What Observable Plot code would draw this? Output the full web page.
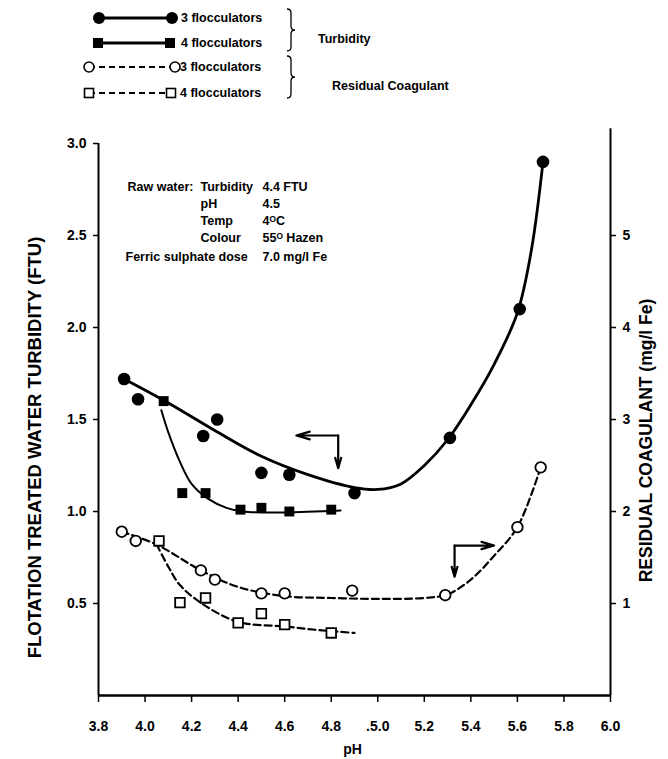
<!DOCTYPE html>
<html>
<head>
<meta charset="utf-8">
<script src="https://cdn.jsdelivr.net/npm/d3@7"></script>
<script src="https://cdn.jsdelivr.net/npm/@observablehq/plot@0.6"></script>
<style>
  body { margin: 0; background: #fff; }
  #chart { width: 668px; font-family: "Liberation Sans", Arial, sans-serif; color: #000; }
  #chart svg { display: block; }
</style>
</head>
<body>
<div id="chart"></div>
<script>
// Flotation treated water turbidity (FTU) against pH
const turb3PH  = [3.91, 3.97, 4.25, 4.31, 4.50, 4.62, 4.90, 5.31, 5.61, 5.71];
const turb3FTU = [1.72, 1.61, 1.41, 1.50, 1.21, 1.20, 1.10, 1.40, 2.10, 2.90];
const turb4PH  = [4.08, 4.16, 4.26, 4.41, 4.50, 4.62, 4.80];
const turb4FTU = [1.60, 1.10, 1.10, 1.01, 1.02, 1.00, 1.01];

// Residual coagulant (mg/l Fe) against pH
const coag3PH = [3.90, 3.96, 4.24, 4.30, 4.50, 4.60, 4.89, 5.29, 5.60, 5.70];
const coag3Fe = [1.78, 1.68, 1.36, 1.26, 1.11, 1.11, 1.14, 1.09, 1.83, 2.48];
const coag4PH = [4.06, 4.15, 4.26, 4.40, 4.50, 4.60, 4.80];
const coag4Fe = [1.68, 1.01, 1.06, 0.79, 0.89, 0.77, 0.68];

// Hand-fitted trend lines
const turb3FitPH  = [3.91, 4.10, 4.30, 4.50, 4.70, 4.90, 5.00, 5.10, 5.20, 5.30, 5.40, 5.50, 5.60, 5.66, 5.71];
const turb3FitFTU = [1.72, 1.59, 1.44, 1.30, 1.20, 1.13, 1.12, 1.15, 1.25, 1.39, 1.58, 1.80, 2.08, 2.42, 2.90];
const turb4FitPH  = [4.07, 4.10, 4.15, 4.20, 4.27, 4.35, 4.42, 4.60, 4.84];
const turb4FitFTU = [1.55, 1.43, 1.27, 1.15, 1.07, 1.02, 1.00, 0.995, 1.005];
const coag3FitPH  = [3.90, 4.05, 4.24, 4.40, 4.60, 4.80, 5.00, 5.20, 5.30, 5.40, 5.50, 5.60, 5.70];
const coag3FitFe  = [1.78, 1.64, 1.36, 1.18, 1.08, 1.06, 1.05, 1.06, 1.10, 1.26, 1.52, 1.83, 2.48];
const coag4FitPH  = [4.05, 4.10, 4.15, 4.25, 4.40, 4.60, 4.75, 4.90];
const coag4FitFe  = [1.64, 1.40, 1.20, 0.99, 0.80, 0.75, 0.71, 0.68];

// Axis ticks
const xTicks = [3.8, 4.0, 4.2, 4.4, 4.6, 4.8, 5.0, 5.2, 5.4, 5.6, 5.8, 6.0];
const xTickLabels = ["3.8", "4.0", "4.2", "4.4", "4.6", "4.8", ".5.0", "5.2", "5.4", "5.6", "5.8", "6.0"];
const yTicks = [0.5, 1.0, 1.5, 2.0, 2.5, 3.0];
const coagTicks = [1, 2, 3, 4, 5];

// Direction arrows: which axis each family is read against
const leftArrow  = {pH: 4.83, ftu: 1.413, toPH: 4.65, toFTU: 1.235};
const rightArrow = {pH: 5.33, fe: 1.63, toPH: 5.50, toFe: 1.29};

// Test conditions
const rawWaterTitle = "Raw water:";
const rawWaterKeys = ["Turbidity", "pH", "Temp", "Colour"];
const rawWaterValues = ["4.4 FTU", "4.5", "4\u1D3CC", "55\u1D3C Hazen"];
const doseKey = "Ferric sulphate dose";
const doseValue = "7.0 mg/l Fe";

// The right-hand axis (mg/l Fe) is drawn at twice the left-hand scale
const feToFTU = fe => fe / 2;

const pts = (xs, ys) => xs.map((x, i) => ({x, y: ys[i]}));
const feFit = (xs, ys) => xs.map((x, i) => ({x, y: feToFTU(ys[i])}));

const FONT = "Liberation Sans, Arial, sans-serif";

// ---------- legend ----------
const legend = d3.create("svg").attr("width", 668).attr("height", 110)
  .attr("font-family", FONT).attr("font-weight", "bold").attr("font-size", 12.5);

function legendRow(g, y, x0, x1, marker, dashed, label, tx) {
  g.append("line").attr("x1", x0).attr("x2", x1).attr("y1", y).attr("y2", y)
    .attr("stroke", "#000").attr("stroke-width", dashed ? 2 : 3)
    .attr("stroke-dasharray", dashed ? "6,4" : null);
  for (const x of [x0, x1]) {
    if (marker === "dot") g.append("circle").attr("cx", x).attr("cy", y).attr("r", 6).attr("fill", "#000");
    if (marker === "square") g.append("rect").attr("x", x - 5).attr("y", y - 5).attr("width", 10).attr("height", 10).attr("fill", "#000");
    if (marker === "ring") g.append("circle").attr("cx", x).attr("cy", y).attr("r", 5).attr("fill", "#fff").attr("stroke", "#000").attr("stroke-width", 1.6);
    if (marker === "box") g.append("rect").attr("x", x - 4.5).attr("y", y - 4.5).attr("width", 9).attr("height", 9).attr("fill", "#fff").attr("stroke", "#000").attr("stroke-width", 1.6);
  }
  g.append("text").attr("x", tx).attr("y", y).attr("dy", "0.35em").text(label);
}
function brace(g, x, y0, y1) {
  const m = (y0 + y1) / 2;
  g.append("path")
    .attr("d", `M${x},${y0} q4,0 4,4 V${m - 4} q0,4 4,4 q-4,0 -4,4 V${y1 - 4} q0,4 -4,4`)
    .attr("fill", "none").attr("stroke", "#000").attr("stroke-width", 1.3);
}
legendRow(legend, 18, 99, 172, "dot", false, "3 flocculators", 181);
legendRow(legend, 43, 98, 170, "square", false, "4 flocculators", 181);
legendRow(legend, 67, 89, 175, "ring", true, "3 flocculators", 180);
legendRow(legend, 93, 89, 171, "box", true, "4 flocculators", 180);
brace(legend, 287, 9, 51);
brace(legend, 287, 56, 98);
legend.append("text").attr("x", 318).attr("y", 39).attr("dy", "0.35em").text("Turbidity");
legend.append("text").attr("x", 332).attr("y", 86).attr("dy", "0.35em").text("Residual Coagulant");

// ---------- chart ----------
const xLabel = d => xTickLabels[xTicks.findIndex(t => Math.abs(t - d) < 1e-9)];

// conditions block, laid out from the top-left corner of the frame
const note = (text, dx, dy) => Plot.text([text], {frameAnchor: "top-left", dx, dy, textAnchor: "start", fontSize: 12.5, fontWeight: "bold"});
const conditionMarks = [
  note(rawWaterTitle, 29, 39),
  ...rawWaterKeys.map((k, i) => note(k, 102, 39 + 17 * i)),
  ...rawWaterValues.map((v, i) => note(v, 164, 39 + 17 * i)),
  note(doseKey, 27, 109),
  note(doseValue, 164, 109)
];

const arrowStyle = {strokeWidth: 2.2, headLength: 10, headAngle: 32};

const chart = Plot.plot({
  width: 668,
  height: 649,
  marginLeft: 98,
  marginRight: 58,
  marginTop: 33,
  marginBottom: 64,
  style: {fontFamily: FONT, fontWeight: "bold", color: "#000", background: "#fff"},
  x: {domain: [3.8, 6.0]},
  y: {domain: [0, 3]},
  marks: [
    // frame: left, bottom and right axis lines
    Plot.ruleX([3.8], {y1: 0, y2: 3, strokeWidth: 2}),
    Plot.ruleX([6.0], {y1: 0, y2: 3.08, strokeWidth: 2}),
    Plot.ruleY([0], {x1: 3.8, x2: 6.0, strokeWidth: 2.5}),

    Plot.axisX({ticks: xTicks, tickFormat: xLabel, tickSize: 7, tickPadding: 19, fontSize: 14, label: null, strokeWidth: 1.5}),
    Plot.axisY({anchor: "left", ticks: yTicks, tickFormat: d3.format(".1f"), tickSize: 5, tickPadding: 7, fontSize: 14, label: null, strokeWidth: 1.5}),
    Plot.axisY({anchor: "right", ticks: coagTicks.map(feToFTU), tickFormat: d => String(Math.round(d * 2)), tickSize: 5, tickPadding: 7, fontSize: 14, label: null, strokeWidth: 1.5}),

    // axis titles
    Plot.text(["FLOTATION TREATED WATER TURBIDITY (FTU)"], {frameAnchor: "left", dx: -63, dy: 28, rotate: -90, textAnchor: "middle", fontSize: 18.5, fontWeight: "bold"}),
    Plot.text(["RESIDUAL COAGULANT (mg/l Fe)"], {frameAnchor: "right", dx: 36, dy: 21, rotate: -90, textAnchor: "middle", fontSize: 17.5, fontWeight: "bold"}),
    Plot.text(["pH"], {frameAnchor: "bottom", dx: -2, dy: 58, fontSize: 14, fontWeight: "bold"}),

    ...conditionMarks,

    // trend lines
    Plot.line(pts(turb3FitPH, turb3FitFTU), {x: "x", y: "y", curve: "catmull-rom", strokeWidth: 2.8}),
    Plot.line(pts(turb4FitPH, turb4FitFTU), {x: "x", y: "y", curve: "catmull-rom", strokeWidth: 2}),
    Plot.line(feFit(coag3FitPH, coag3FitFe), {x: "x", y: "y", curve: "catmull-rom", strokeWidth: 2.2, strokeDasharray: "7,4"}),
    Plot.line(feFit(coag4FitPH, coag4FitFe), {x: "x", y: "y", curve: "catmull-rom", strokeWidth: 2.2, strokeDasharray: "7,4"}),

    // measurements
    Plot.dot(pts(turb3PH, turb3FTU), {x: "x", y: "y", r: 6.3, fill: "#000"}),
    Plot.dot(pts(turb4PH, turb4FTU), {x: "x", y: "y", r: 5.6, symbol: "square", fill: "#000"}),
    Plot.dot(feFit(coag3PH, coag3Fe), {x: "x", y: "y", r: 5.3, fill: "#fff", stroke: "#000", strokeWidth: 1.8}),
    Plot.dot(feFit(coag4PH, coag4Fe), {x: "x", y: "y", r: 5.4, symbol: "square", fill: "#fff", stroke: "#000", strokeWidth: 1.8}),

    // arrows pointing to the axis each family is read against
    Plot.arrow([leftArrow], {x1: "pH", y1: "ftu", x2: "toPH", y2: "ftu", ...arrowStyle}),
    Plot.arrow([leftArrow], {x1: "pH", y1: "ftu", x2: "pH", y2: "toFTU", ...arrowStyle}),
    Plot.arrow([rightArrow], {x1: "pH", y1: d => feToFTU(d.fe), x2: "toPH", y2: d => feToFTU(d.fe), ...arrowStyle}),
    Plot.arrow([rightArrow], {x1: "pH", y1: d => feToFTU(d.fe), x2: "pH", y2: d => feToFTU(d.toFe), ...arrowStyle})
  ]
});

const root = document.getElementById("chart");
root.append(legend.node());
root.append(chart);
</script>
</body>
</html>
